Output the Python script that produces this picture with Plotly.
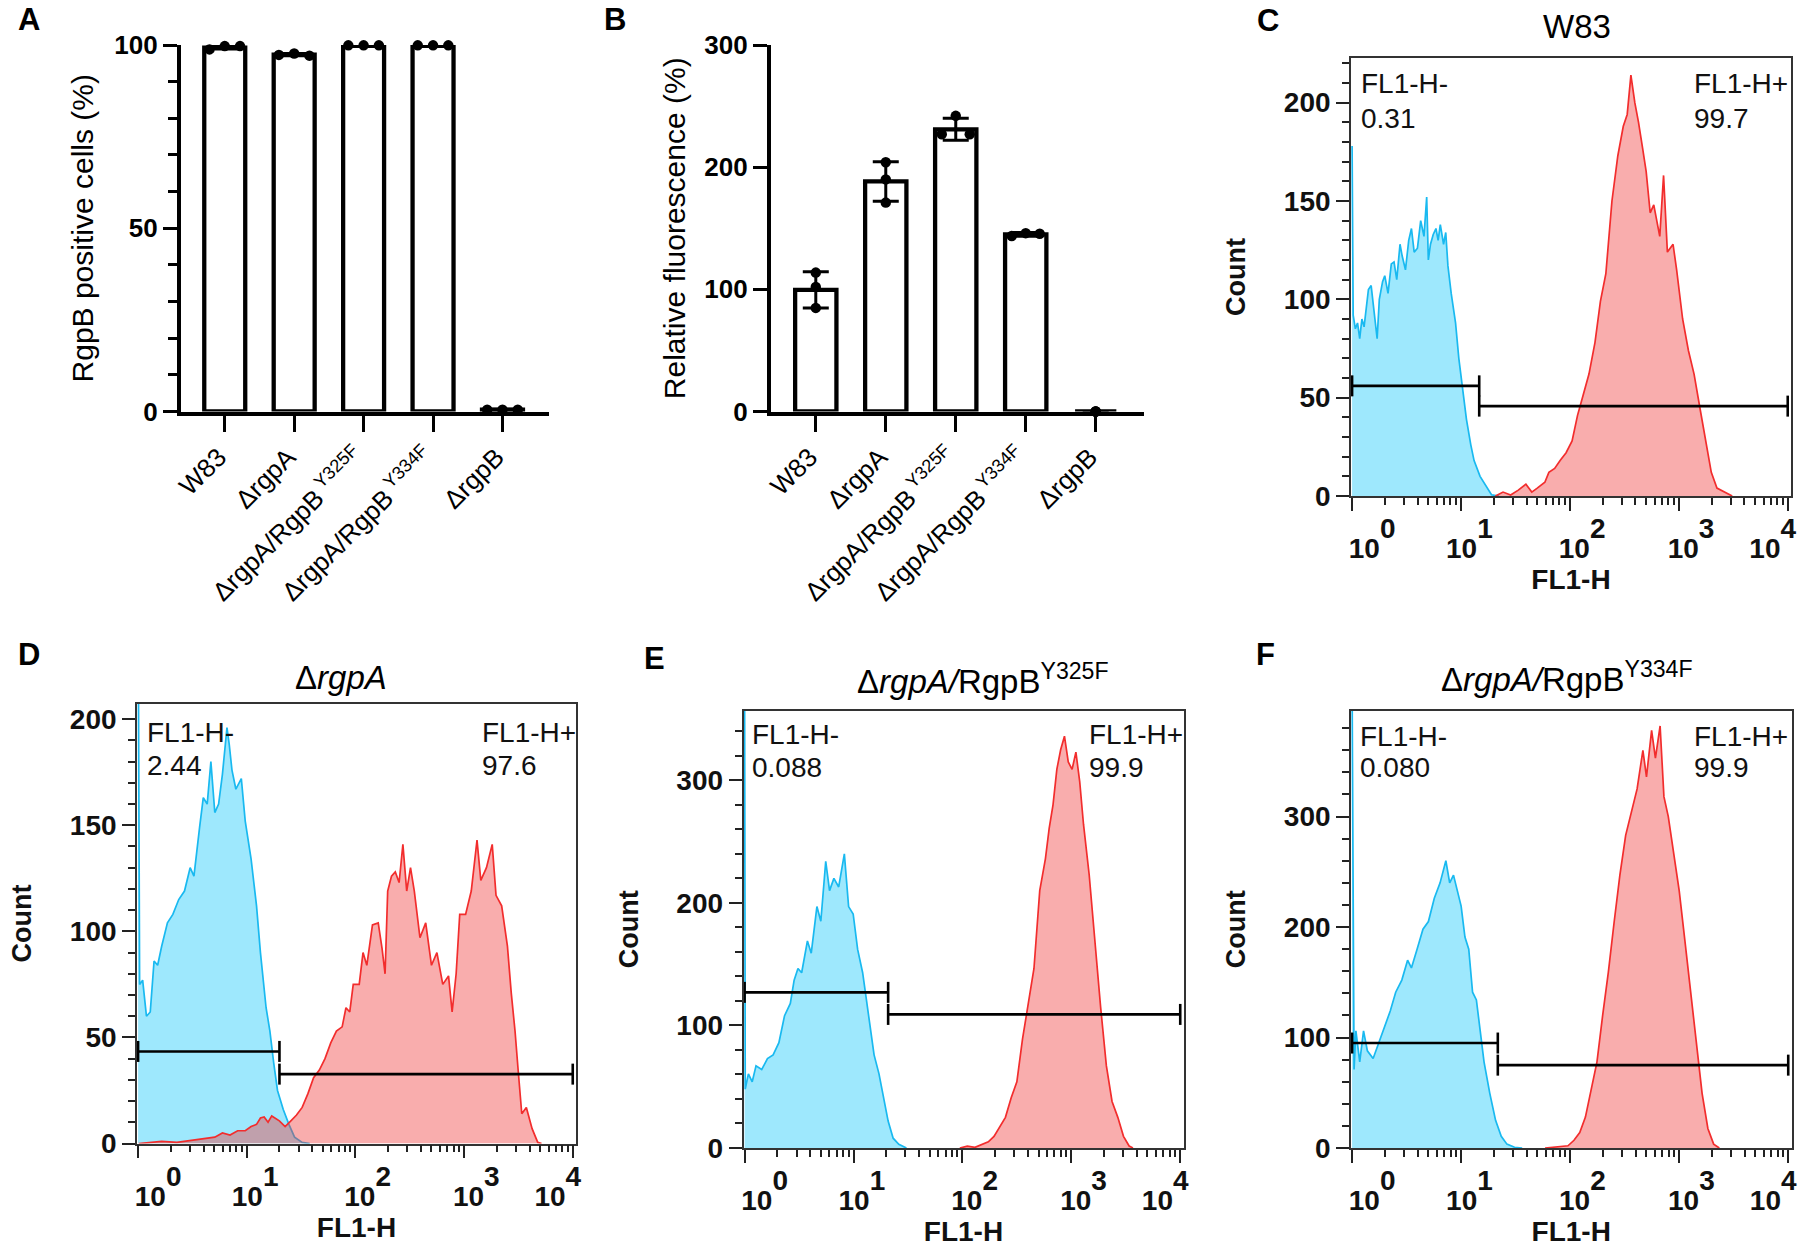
import plotly.graph_objects as go

W, H = 1800, 1253
FONT = "Liberation Sans, Arial, sans-serif"

# ---------------- data ----------------
strains = ["W83", "ΔrgpA", "ΔrgpA/RgpB<sup> Y325F</sup>",
           "ΔrgpA/RgpB<sup> Y334F</sup>", "ΔrgpB"]

# Panel A: RgpB positive cells (%)
a_mean = [99.3, 97.4, 99.8, 99.8, 0.5]
a_sd = [0.4, 0.3, 0.1, 0.1, 0.1]
a_reps = [[98.8, 99.7, 99.7], [97.3, 97.7, 97.1], [99.9, 99.9, 99.9],
          [99.9, 99.9, 99.9], [0.5, 0.5, 0.5]]

# Panel B: relative fluorescence (%)
b_mean = [99.6, 188.3, 231.0, 145.0, 0.0]
b_sd = [14.8, 16.2, 9.0, 1.5, 0.0]
b_reps = [[113.7, 102.0, 84.8], [204.0, 190.0, 171.0], [242.0, 227.0, 227.0],
          [143.7, 146.0, 145.5], [0.0, 0.0, 0.0]]

# Flow histograms: log10(FL1-H) and Count
c_neg_log = [0.0, 0.01, 0.03, 0.05, 0.07, 0.09, 0.11, 0.13, 0.15, 0.175, 0.2, 0.23, 0.25, 0.28, 0.3,
             0.33, 0.36, 0.385, 0.41, 0.44, 0.46, 0.49, 0.52, 0.545, 0.57, 0.6, 0.63, 0.66, 0.685,
             0.7, 0.72, 0.745, 0.77, 0.79, 0.81, 0.84, 0.86, 0.88, 0.91, 0.95, 0.98, 1.02, 1.05,
             1.09, 1.12, 1.175, 1.23, 1.28, 1.35]
c_neg_count = [178, 92, 85, 88, 80, 90, 86, 95, 105, 107, 96, 80, 100, 109, 112, 103, 118, 119, 110,
               128, 122, 115, 130, 136, 124, 126, 140, 132, 152, 120, 128, 133, 136, 130, 138, 128,
               134, 117, 103, 88, 70, 53, 39, 26, 18, 10, 5, 0.6, 0]
c_pos_log = [1.316, 1.386, 1.456, 1.526, 1.596, 1.65, 1.70, 1.77, 1.807, 1.86, 1.91, 1.965, 2.02,
             2.07, 2.12, 2.175, 2.23, 2.28, 2.33, 2.386, 2.44, 2.49, 2.526, 2.56, 2.596, 2.63, 2.667,
             2.70, 2.737, 2.77, 2.825, 2.86, 2.895, 2.947, 2.98, 3.035, 3.088, 3.14, 3.193, 3.246,
             3.298, 3.35, 3.42, 3.49]
c_pos_count = [0, 2, 0.5, 3, 6, 2, 4, 7, 12, 14, 18, 22, 28, 41, 51, 62, 78, 99, 113, 150, 173, 188,
               194, 214, 200, 190, 177, 165, 144, 148, 132, 163, 124, 128, 115, 90, 74, 62, 45, 28,
               12, 4, 2, 0]

d_neg_log = [0.0, 0.014, 0.042, 0.077, 0.112, 0.147, 0.18, 0.217, 0.27, 0.32, 0.374, 0.427, 0.479,
             0.514, 0.566, 0.60, 0.636, 0.67, 0.706, 0.741, 0.776, 0.818, 0.839, 0.864, 0.90, 0.95,
             0.986, 1.04, 1.09, 1.126, 1.178, 1.213, 1.248, 1.283, 1.336, 1.388, 1.44, 1.51, 1.58]
d_neg_count = [260, 75, 77, 60, 62, 86, 84, 93, 104, 108, 115, 119, 130, 126, 149, 163, 160, 180,
               156, 160, 174, 196, 188, 176, 167, 172, 152, 134, 112, 90, 64, 53, 38, 25, 16, 9, 3,
               0.5, 0]
d_pos_log = [0.007, 0.217, 0.357, 0.497, 0.60, 0.706, 0.776, 0.846, 0.916, 0.986, 1.04, 1.09, 1.126,
             1.16, 1.196, 1.23, 1.30, 1.353, 1.406, 1.458, 1.51, 1.563, 1.615, 1.668, 1.72, 1.773,
             1.825, 1.878, 1.913, 1.948, 1.98, 2.035, 2.07, 2.105, 2.157, 2.21, 2.245, 2.273, 2.297,
             2.332, 2.367, 2.402, 2.437, 2.472, 2.507, 2.542, 2.594, 2.647, 2.70, 2.75, 2.804, 2.857,
             2.89, 2.927, 2.96, 3.014, 3.066, 3.119, 3.154, 3.206, 3.259, 3.294, 3.346, 3.399, 3.434,
             3.469, 3.497, 3.531, 3.573, 3.626, 3.678, 3.713]
d_pos_count = [0, 1, 0.5, 1.5, 2, 3, 5, 4, 6, 6, 8, 9, 12, 12.5, 10, 13, 10.7, 8, 10.7, 13.4, 17,
               23.5, 31, 34.6, 40, 47.4, 53, 55, 64, 62, 75, 75, 90, 84, 103, 104, 92, 80, 119, 126,
               128, 123, 141, 119, 130, 119, 97, 104, 84, 90, 75, 79, 62, 80, 108, 108, 119, 143,
               124, 130, 141, 117, 112, 93, 71, 53, 35, 14, 17, 7, 0.5, 0]

e_neg_log = [0.0, 0.006, 0.035, 0.07, 0.105, 0.157, 0.21, 0.262, 0.315, 0.367, 0.42, 0.455, 0.49,
             0.524, 0.577, 0.612, 0.664, 0.70, 0.745, 0.78, 0.82, 0.864, 0.916, 0.955, 0.997, 1.038,
             1.084, 1.119, 1.154, 1.189, 1.234, 1.276, 1.318, 1.364, 1.416, 1.486]
e_neg_count = [380, 48, 60.5, 54, 67, 64, 73, 76, 86, 108, 118, 137, 146.5, 143, 169, 159, 197, 185,
               234, 210, 220, 213, 240, 197, 191, 162, 143, 121, 99, 76, 60.5, 41, 22, 8, 3, 0]
e_pos_log = [1.976, 2.045, 2.115, 2.185, 2.238, 2.29, 2.343, 2.395, 2.448, 2.50, 2.552, 2.605, 2.657,
             2.71, 2.762, 2.797, 2.832, 2.867, 2.902, 2.937, 2.972, 3.007, 3.042, 3.077, 3.112,
             3.164, 3.217, 3.269, 3.322, 3.374, 3.427, 3.479, 3.531, 3.566]
e_pos_count = [0, 1.5, 0.5, 3, 5, 9.5, 17.5, 25, 41, 54, 89, 118, 146.5, 210, 236, 261, 280, 309,
               325, 336, 315, 309, 323, 299, 264, 223, 166, 115, 67, 38, 25, 9.5, 1.6, 0]

f_neg_log = [0.0, 0.018, 0.035, 0.07, 0.105, 0.14, 0.193, 0.246, 0.298, 0.35, 0.40, 0.456, 0.509,
             0.544, 0.596, 0.65, 0.70, 0.754, 0.807, 0.86, 0.895, 0.93, 0.965, 1.0, 1.035, 1.07,
             1.105, 1.14, 1.175, 1.21, 1.263, 1.316, 1.368, 1.42, 1.49, 1.56]
f_neg_count = [420, 71, 106, 78, 106, 88, 81, 95, 110, 124, 141, 152, 170, 163, 180, 198, 205, 226,
               240, 260, 240, 247, 233, 219, 191, 180, 141, 134, 106, 78, 49.5, 25, 10.6, 3.5, 0.7, 0]
f_pos_log = [1.77, 1.877, 1.98, 2.035, 2.088, 2.14, 2.193, 2.246, 2.298, 2.35, 2.404, 2.456, 2.509,
             2.56, 2.614, 2.667, 2.70, 2.747, 2.782, 2.825, 2.86, 2.90, 2.947, 3.0, 3.053, 3.105,
             3.158, 3.21, 3.263, 3.316, 3.368]
f_pos_count = [0, 1, 2, 7, 14, 28, 53, 78, 120, 159, 205, 247, 283, 304, 325, 360, 336, 378, 353,
               382, 318, 300, 269, 233, 187, 141, 99, 49.5, 17.7, 3.5, 0]

# gates: split point (FL1-H), negative-gate level, positive-gate level
gate_split = {"C": 14.7, "D": 20.0, "E": 20.8, "F": 21.7}
gate_neg_level = {"C": 56, "D": 43.4, "E": 127, "F": 95}
gate_pos_level = {"C": 45.7, "D": 32.7, "E": 109, "F": 75}
gate_lo, gate_hi = 1.0, 10000.0

pct_neg = {"C": "0.31", "D": "2.44", "E": "0.088", "F": "0.080"}
pct_pos = {"C": "99.7", "D": "97.6", "E": "99.9", "F": "99.9"}
titles = {"C": "W83", "D": "Δ<i>rgpA</i>", "E": "Δ<i>rgpA/</i>RgpB<sup>Y325F</sup>",
          "F": "Δ<i>rgpA/</i>RgpB<sup>Y334F</sup>"}
y_max = {"C": 222.7, "D": 207.4, "E": 357, "F": 396}
y_major = {"C": 50, "D": 50, "E": 100, "F": 100}
y_minor = {"C": 10, "D": 10, "E": 20, "F": 20}

decades = [1, 10, 100, 1000, 10000]
decade_exp = ["0", "1", "2", "3", "4"]
minor_vals = [m * d for d in [1, 10, 100, 1000] for m in range(2, 10)]

# ---------------- style ----------------
BLUE_LINE = "rgb(25,185,240)"
BLUE_FILL = "rgba(40,205,250,0.45)"
RED_LINE = "rgb(242,45,45)"
RED_FILL = "rgba(240,60,60,0.42)"
SP = "\u00a0"
TICK_PX = 28


def decade_label(e):
    # FlowJo style: full-size exponent, raised well above the base
    return f"10<sup><sup><span style='font-size:{TICK_PX}px'>{e}</span></sup></sup>"


# leading padding nudges labels right like FlowJo (first one most); last one stays put
lead_pad = [9, 6, 7, 7, 0]
decade_text = [SP * n + decade_label(e) for n, e in zip(lead_pad, decade_exp)]

# plot-area boxes in pixels: x0, x1, ytop, ybottom
box = {
    "A": (181, 549, 45, 411.5),
    "B": (771, 1144, 45, 411.5),
    "C": (1351, 1791, 58, 496),
    "D": (137, 576, 703.5, 1143.5),
    "E": (743.5, 1183.5, 710.5, 1148),
    "F": (1351, 1791.5, 710.5, 1148),
}
ax_id = {"A": "", "B": "2", "C": "3", "D": "4", "E": "5", "F": "6"}


def xdom(p):
    return [box[p][0] / W, box[p][1] / W]


def ydom(p):
    return [1 - box[p][3] / H, 1 - box[p][2] / H]


def px(x):
    return x / W


def py(y):
    return 1 - y / H


fig = go.Figure()

# ---------------- bar panels ----------------
a_offsets = [[-0.22, 0, 0.22]] * 5
b_offsets = [[0, 0, 0], [0, 0, 0], [0, -0.2, 0.2], [-0.2, 0, 0.2], [0, 0, 0]]

for p, mean, sd, reps, offs in [("A", a_mean, a_sd, a_reps, a_offsets),
                                 ("B", b_mean, b_sd, b_reps, b_offsets)]:
    xa, ya = "x" + ax_id[p], "y" + ax_id[p]
    fig.add_trace(go.Bar(
        x=list(range(len(strains))), y=mean, width=0.59, xaxis=xa, yaxis=ya,
        marker=dict(color="white", line=dict(color="black", width=4.3)),
        error_y=dict(type="data", array=sd, color="black", thickness=3, width=13),
        cliponaxis=False, showlegend=False, hoverinfo="skip"))
    px_pts, py_pts = [], []
    for i, (vals, off) in enumerate(zip(reps, offs)):
        for v, o in zip(vals, off):
            px_pts.append(i + o)
            py_pts.append(v)
    fig.add_trace(go.Scatter(
        x=px_pts, y=py_pts, mode="markers", xaxis=xa, yaxis=ya,
        marker=dict(color="black", size=10.5), cliponaxis=False,
        showlegend=False, hoverinfo="skip"))

bar_x_common = dict(
    tickmode="array", tickvals=list(range(5)), ticktext=strains, tickangle=-45,
    ticklabelshift=-6, ticklabeloverflow="allow",
    ticks="outside", ticklen=16, tickwidth=3.3, tickcolor="black", automargin=False,
    showline=True, linewidth=4.3, linecolor="black", showgrid=False, zeroline=False,
    tickfont=dict(family=FONT, size=26, color="black"))
bar_y_common = dict(
    ticks="outside", ticklen=14, tickwidth=3.3, tickcolor="black", automargin=False,
    showline=True, linewidth=4.3, linecolor="black", showgrid=False, zeroline=False,
    tickfont=dict(family=FONT, size=26, color="black", weight="bold"))

fig.update_layout(
    xaxis=dict(domain=xdom("A"), anchor="y", range=[-0.63, 4.67], **bar_x_common),
    yaxis=dict(domain=ydom("A"), anchor="x", range=[0, 100], tickvals=[0, 50, 100],
               minor=dict(dtick=10, ticks="outside", ticklen=9, tickwidth=3, tickcolor="black"),
               title=dict(text="RgpB positive cells (%)", standoff=13,
                          font=dict(family=FONT, size=30, color="black")),
               **bar_y_common),
    xaxis2=dict(domain=xdom("B"), anchor="y2", range=[-0.64, 4.69], **bar_x_common),
    yaxis2=dict(domain=ydom("B"), anchor="x2", range=[0, 300], tickvals=[0, 100, 200, 300],
                title=dict(text="Relative fluorescence (%)", standoff=11,
                           font=dict(family=FONT, size=30, color="black")),
                **bar_y_common),
)

# ---------------- flow panels ----------------
flow_data = {
    "C": (c_neg_log, c_neg_count, c_pos_log, c_pos_count),
    "D": (d_neg_log, d_neg_count, d_pos_log, d_pos_count),
    "E": (e_neg_log, e_neg_count, e_pos_log, e_pos_count),
    "F": (f_neg_log, f_neg_count, f_pos_log, f_pos_count),
}

for p, (nl, nc, pl, pc) in flow_data.items():
    xa, ya = "x" + ax_id[p], "y" + ax_id[p]
    fig.add_trace(go.Scatter(
        x=[10 ** v for v in nl], y=nc, mode="lines", fill="tozeroy",
        line=dict(color=BLUE_LINE, width=1.7), fillcolor=BLUE_FILL,
        xaxis=xa, yaxis=ya, showlegend=False, hoverinfo="skip"))
    fig.add_trace(go.Scatter(
        x=[10 ** v for v in pl], y=pc, mode="lines", fill="tozeroy",
        line=dict(color=RED_LINE, width=1.7), fillcolor=RED_FILL,
        xaxis=xa, yaxis=ya, showlegend=False, hoverinfo="skip"))
    # gates
    for x0, x1, lvl in [(gate_lo, gate_split[p], gate_neg_level[p]),
                        (gate_split[p], gate_hi, gate_pos_level[p])]:
        fig.add_trace(go.Scatter(
            x=[x0, x1], y=[lvl, lvl], mode="lines+markers",
            line=dict(color="black", width=2.6),
            marker=dict(symbol="line-ns", size=15, line=dict(color="black", width=2.6)),
            cliponaxis=False, xaxis=xa, yaxis=ya, showlegend=False, hoverinfo="skip"))

    fig.layout["xaxis" + ax_id[p]] = dict(
        domain=xdom(p), anchor=ya, type="log", range=[-0.01, 4.03], automargin=False,
        tickmode="array", tickvals=decades, ticktext=decade_text, tickangle=0,
        ticklabelshift=-15, ticklabelstandoff=14, ticklabeloverflow="allow",
        ticks="outside", ticklen=13, tickwidth=2, tickcolor="#222",
        minor=dict(tickmode="array", tickvals=minor_vals, ticks="outside", ticklen=7,
                   tickwidth=1.6, tickcolor="#222"),
        showline=True, mirror=True, linewidth=1.7, linecolor="#333",
        showgrid=False, zeroline=False,
        tickfont=dict(family=FONT, size=TICK_PX, color="#111", weight="bold"),
        title=dict(text="FL1-H", standoff=4,
                   font=dict(family=FONT, size=28, color="#111", weight="bold")))
    fig.layout["yaxis" + ax_id[p]] = dict(
        domain=ydom(p), anchor=xa, range=[0, y_max[p]], dtick=y_major[p], tick0=0,
        automargin=False,
        ticks="outside", ticklen=13, tickwidth=2, tickcolor="#222",
        minor=dict(dtick=y_minor[p], ticks="outside", ticklen=7, tickwidth=1.6, tickcolor="#222"),
        showline=True, mirror=True, linewidth=1.7, linecolor="#333",
        showgrid=False, zeroline=False,
        tickfont=dict(family=FONT, size=28, color="#111", weight="bold"),
        title=dict(text="Count", standoff=30,
                   font=dict(family=FONT, size=27, color="#111", weight="bold")))

# ---------------- annotations ----------------
ann = []
labels_pos = {"A": (29, 19), "B": (615, 19), "C": (1268, 20),
              "D": (29, 654), "E": (654, 658), "F": (1265, 654)}
for lab, (x, y) in labels_pos.items():
    ann.append(dict(text=f"<b>{lab}</b>", x=px(x), y=py(y), xref="paper", yref="paper",
                    xanchor="center", yanchor="middle",
                    showarrow=False, font=dict(family=FONT, size=31, color="black")))

title_pos = {"C": (1577, 26.5), "D": (341, 677), "E": (983, 679), "F": (1567, 677)}
for p, (x, y) in title_pos.items():
    ann.append(dict(text=titles[p], x=px(x), y=py(y), xref="paper", yref="paper",
                    xanchor="center", yanchor="middle",
                    showarrow=False, font=dict(family=FONT, size=33, color="black")))

# left x, right x, line-1 y, line-2 y
gate_text_pos = {"C": (1359, 1692, 83.7, 118.4), "D": (145, 480, 732, 765),
                 "E": (750, 1087, 734, 767), "F": (1358, 1692, 736, 767)}
for p, (xl, xr, y1, y2) in gate_text_pos.items():
    for x, t1, t2 in [(xl, "FL1-H-", pct_neg[p]), (xr, "FL1-H+", pct_pos[p])]:
        for y, t in [(y1, t1), (y2, t2)]:
            ann.append(dict(text=t, x=px(x), y=py(y), xref="paper", yref="paper",
                            xanchor="left", yanchor="middle", showarrow=False,
                            font=dict(family=FONT, size=28, color="#111")))

fig.update_layout(
    width=W, height=H, margin=dict(l=0, r=0, t=0, b=0, autoexpand=False),
    paper_bgcolor="white", plot_bgcolor="rgba(0,0,0,0)",
    font=dict(family=FONT, color="black"),
    annotations=ann, showlegend=False)

fig.write_html("out.html", config={"displayModeBar": False},
               post_script="document.body.style.margin='0px';")
